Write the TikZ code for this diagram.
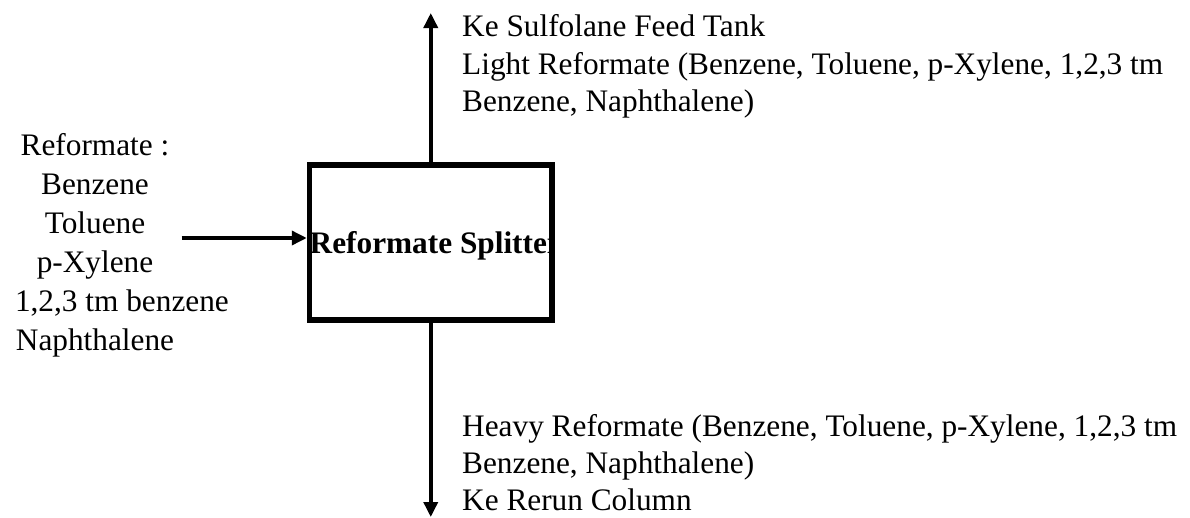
\documentclass[tikz,border=0pt]{standalone}
\usepackage{fontspec}
\setmainfont{Liberation Serif}
\usetikzlibrary{arrows.meta}
\tikzset{
  unitbox/.style={draw=black, line width=5.5pt, minimum width=242.5pt, minimum height=155pt, inner sep=0pt},
  flow/.style={line width=3.5pt, -{Triangle[length=15pt,width=14pt]}},
  lbl/.style={inner sep=0pt, font=\fontsize{31.3}{37.5}\selectfont},
}
\begin{document}
\begin{tikzpicture}[x=1pt,y=-1pt]
\useasboundingbox (0,0) rectangle (1190,517);
\node[unitbox] (splitter) at (430.75,242.5) {};
\begin{scope}
  \clip (splitter.north west) rectangle (splitter.south east);
  \node[anchor=base west, inner sep=0pt, font=\fontsize{31.3}{37.5}\selectfont\bfseries] (splitlabel) at (309.5,253) {Reformate Splitter};
\end{scope}
\coordinate (feedstart) at (181.5,238);
\coordinate (topend) at (430.75,13);
\coordinate (botend) at (430.75,517);
\draw[flow] (feedstart) -- (feedstart -| splitter.west);
\draw[flow] (splitter.north) -- (topend);
\draw[flow] (splitter.south) -- (botend);
\node[lbl, anchor=base west, align=left] (toplabel) at (462,111.7)
  {Ke Sulfolane Feed Tank\\Light Reformate (Benzene, Toluene, p-Xylene, 1,2,3 tm\\Benzene, Naphthalene)};
\node[lbl, anchor=base west, align=left, font=\fontsize{31.3}{37}\selectfont] (botlabel) at (462,510.5)
  {Heavy Reformate (Benzene, Toluene, p-Xylene, 1,2,3 tm\\Benzene, Naphthalene)\\Ke Rerun Column};
\node[lbl, anchor=base, align=center, font=\fontsize{31.3}{39}\selectfont] (feedlabel) at (95,350)
  {Reformate :\\Benzene\\Toluene\\p-Xylene\\\makebox[160pt][l]{1,2,3 tm benzene}\\Naphthalene};
\end{tikzpicture}
\end{document}
